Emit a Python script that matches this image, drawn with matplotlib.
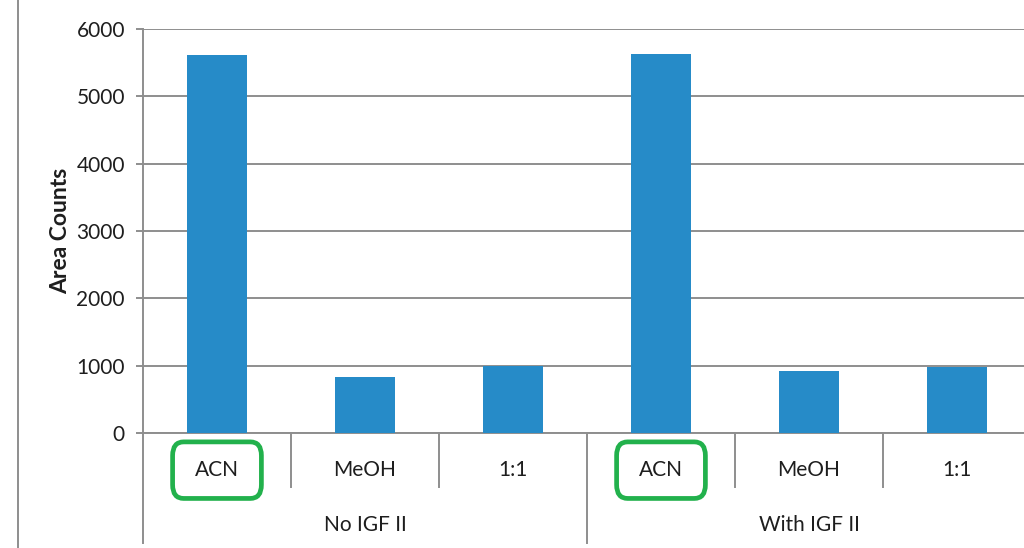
import matplotlib
matplotlib.use("Agg")
import matplotlib.pyplot as plt
from matplotlib.lines import Line2D
from matplotlib.patches import FancyBboxPatch

# values
groups = ["No IGF II", "With IGF II"]
solvents = ["ACN", "MeOH", "1:1"]
area_counts = [5615, 825, 990, 5635, 915, 985]
highlighted = ["ACN"]

y_ticks = [0, 1000, 2000, 3000, 4000, 5000, 6000]

BAR_COLOR = "#268bc8"
GRID_COLOR = "#8e8e8e"
BOX_COLOR = "#22b14c"
TEXT_COLOR = "#1e1e1e"

plt.rcParams["font.family"] = ["Lato", "DejaVu Sans"]

fig = plt.figure(figsize=(10.24, 5.48), dpi=100)
# plot area runs past the right edge of the picture, as in the reference crop
ax = fig.add_axes([143 / 1024, 1 - 433 / 548, 888 / 1024, 404 / 548])

n_cat = len(groups) * len(solvents)
x = list(range(n_cat))
ax.bar(x, area_counts, width=0.41, color=BAR_COLOR, zorder=3)

ax.set_xlim(-0.5, n_cat - 0.5)
ax.set_ylim(0, 6000)
ax.set_yticks(y_ticks)
ax.set_yticklabels([str(v) for v in y_ticks], fontsize=15, color=TEXT_COLOR)
ax.set_xticks([])
ax.yaxis.grid(True, color=GRID_COLOR, linewidth=1.4, zorder=0)
ax.tick_params(axis="y", length=5, width=1.4, color=GRID_COLOR, pad=8)

for side in ["top", "right", "left"]:
    ax.spines[side].set_visible(False)
ax.spines["bottom"].set_color(GRID_COLOR)
ax.spines["bottom"].set_linewidth(1.4)

ax.set_ylabel("Area Counts", fontsize=16.5, fontweight="bold", color=TEXT_COLOR, labelpad=4)

tr = ax.get_xaxis_transform()
line_kw = dict(color=GRID_COLOR, linewidth=1.4, transform=tr, clip_on=False)

# left axis line continues down through the category table
ax.add_line(Line2D([-0.5, -0.5], [1, -0.272], **line_kw))

cat_y = -0.0916
group_y = -0.2277
for i in range(n_cat):
    solvent = solvents[i % len(solvents)]
    ax.text(i, cat_y, solvent, ha="center", va="center", fontsize=15,
            color=TEXT_COLOR, transform=tr)
    if solvent in highlighted:
        box = FancyBboxPatch((i - 0.3, -0.162), 0.6, 0.14,
                             boxstyle="round,pad=0,rounding_size=0.075",
                             fill=False, edgecolor=BOX_COLOR, linewidth=3.4,
                             transform=tr, clip_on=False, mutation_aspect=0.45)
        ax.add_patch(box)
    if i % len(solvents) != 0:
        ax.add_line(Line2D([i - 0.5, i - 0.5], [0, -0.134], **line_kw))

for g, name in enumerate(groups):
    start = g * len(solvents)
    ax.text(start + (len(solvents) - 1) / 2, group_y, name, ha="center", va="center",
            fontsize=15, color=TEXT_COLOR, transform=tr)
    if g > 0:
        ax.add_line(Line2D([start - 0.5, start - 0.5], [0, -0.272], **line_kw))

# thin frame line at the far left of the picture
fig.add_artist(Line2D([18 / 1024, 18 / 1024], [0, 1], color=GRID_COLOR, linewidth=1.4))

fig.savefig("out.png", dpi=100)
